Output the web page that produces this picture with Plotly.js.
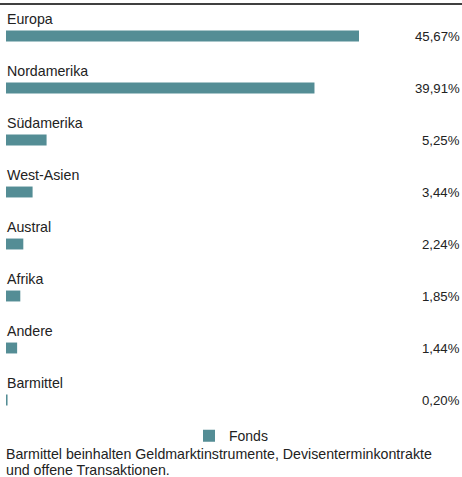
<!DOCTYPE html>
<html><head><meta charset="utf-8">
<script src="https://cdn.plot.ly/plotly-3.0.1.min.js"></script>
<style>html,body{margin:0;padding:0;background:#fff}</style>
</head><body>
<div id="chart" style="width:462px;height:477px"></div>
<script>
const categories = ["Europa","Nordamerika","Südamerika","West-Asien","Austral","Afrika","Andere","Barmittel"];
const values = [45.67,39.91,5.25,3.44,2.24,1.85,1.44,0.20];
const valueLabels = ["45,67%","39,91%","5,25%","3,44%","2,24%","1,85%","1,44%","0,20%"];
const seriesName = "Fonds";
const footnoteLines = ["Barmittel beinhalten Geldmarktinstrumente, Devisenterminkontrakte","und offene Transaktionen."];

const FONT = "Liberation Sans, Arial, sans-serif";
const TXT = "#222";
const BAR = "#548d95";
const PH = 416;

const annotations = [];
categories.forEach((c,i)=>{
  annotations.push({x:0, xref:'paper', y:c, yref:'y', text:c, showarrow:false,
    xanchor:'left', yanchor:'middle', yshift:17, xshift:-1, font:{family:FONT,size:14.2,color:TXT}});
  annotations.push({x:1, xref:'paper', y:c, yref:'y', text:valueLabels[i], showarrow:false,
    xanchor:'right', yanchor:'middle', xshift:6, font:{family:FONT,size:13.2,color:TXT}});
});
const footY = [454, 470];
footnoteLines.forEach((t,i)=>{
  annotations.push({x:0, xref:'paper', y:(426-footY[i])/PH, yref:'paper', text:t, showarrow:false,
    xanchor:'left', yanchor:'middle', align:'left', xshift:-1, borderpad:0,
    font:{family:FONT,size:14.2,color:TXT}});
});

Plotly.newPlot('chart', [{
  type:'bar', orientation:'h', y:categories, x:values, name:seriesName,
  marker:{color:BAR}, width:0.21, hoverinfo:'none'
}], {
  width:462, height:477,
  margin:{l:6,r:6,t:10,b:51},
  paper_bgcolor:'#fff', plot_bgcolor:'#fff',
  font:{family:FONT,size:14,color:TXT},
  xaxis:{range:[0,58.22], visible:false, fixedrange:true},
  yaxis:{type:'category', range:[7.5,-0.5], visible:false, fixedrange:true},
  showlegend:true,
  legend:{orientation:'h', x:0.5, xanchor:'center', y:0.014, yanchor:'top',
    font:{family:FONT,size:14,color:TXT}, bgcolor:'rgba(0,0,0,0)'},
  shapes:[{type:'line', xref:'paper', yref:'paper', x0:-6/450, x1:456/450, y0:1+6/PH, y1:1+6/PH,
    line:{color:'#000', width:1.3}}],
  annotations:annotations
}, {staticPlot:true});
</script>
</body></html>
